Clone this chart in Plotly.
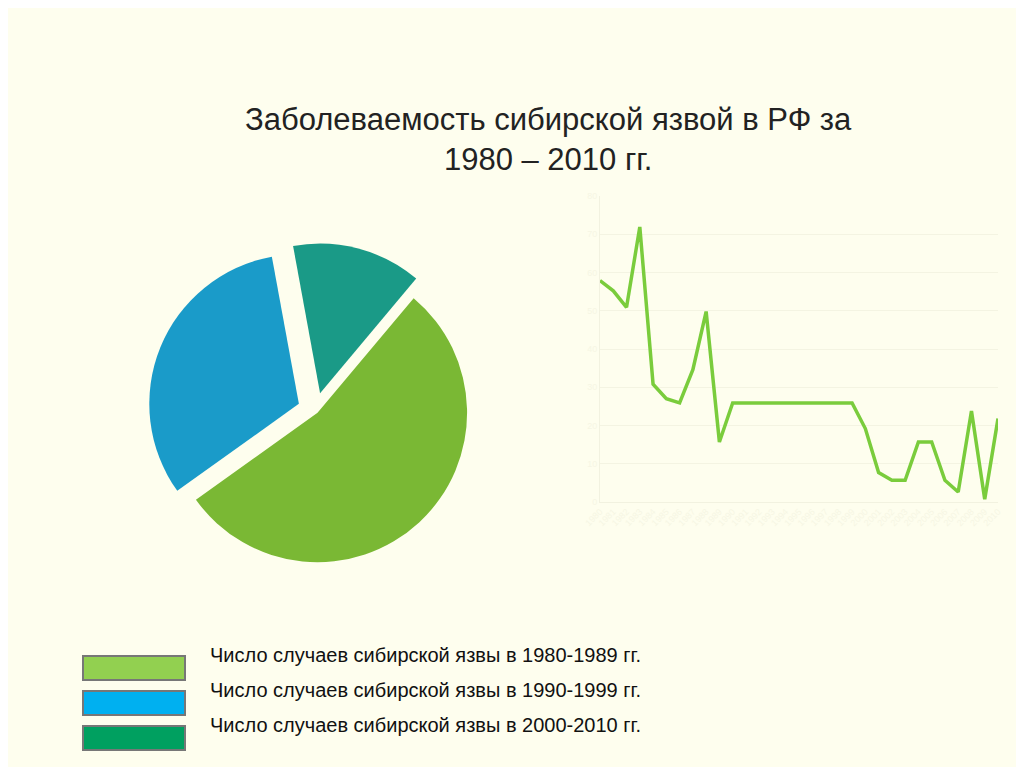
import plotly.graph_objects as go

years = [str(y) for y in range(1980, 2011)]
cases = [57.9, 55.2, 50.9, 71.9, 30.8, 27.0, 25.9, 34.6, 49.8, 15.7,
         25.9, 25.9, 25.9, 25.9, 25.9, 25.9, 25.9, 25.9, 25.9, 25.9,
         19.2, 7.7, 5.7, 5.7, 15.7, 15.7, 5.7, 2.6, 23.8, 0.7, 21.8]
pie_labels = ["Число случаев сибирской язвы в 1980-1989 гг.",
              "Число случаев сибирской язвы в 1990-1999 гг.",
              "Число случаев сибирской язвы в 2000-2010 гг."]
pie_values = [54, 32, 14]
pie_colors = ["#7ab834", "#1a9bc9", "#1a9a87"]
legend_colors = ["#92d050", "#00b0f0", "#00a060"]

W, H = 1024, 767
bg = "#fefeee"
fig = go.Figure()
fig.add_trace(go.Pie(labels=pie_labels, values=pie_values, sort=False, direction="clockwise",
                     rotation=40, pull=[0.02, 0.12, 0.12],
                     marker=dict(colors=pie_colors, line=dict(color=bg, width=0)),
                     textinfo="none", showlegend=False,
                     domain=dict(x=[95/W, 520/W], y=[1-570/H, 1-235/H])))
fig.add_trace(go.Scatter(x=years, y=cases, mode="lines", showlegend=False,
                         line=dict(color="#7acc3c", width=3.5)))
fig.update_layout(
    width=W, height=H, margin=dict(l=0, r=0, t=0, b=0, autoexpand=False),
    paper_bgcolor=bg, plot_bgcolor=bg,
    xaxis=dict(domain=[592/W, 990/W], tickangle=-45, tickfont=dict(color="#f6f6e4", size=9),
               showgrid=False, showline=True, linecolor="#f2f2e0", automargin=False),
    yaxis=dict(domain=[1-494/H, 1-188/H], range=[0, 80], dtick=10, automargin=False,
               tickfont=dict(color="#f6f6e4", size=9), gridcolor="#f4f4e2",
               showline=True, linecolor="#f2f2e0", zeroline=False),
    font=dict(family="Liberation Sans, Arial, sans-serif"),
)
fig.add_annotation(text="Заболеваемость сибирской язвой в РФ за<br>1980 – 2010 гг.",
                   x=540/W, y=1-92/H, xref="paper", yref="paper", showarrow=False,
                   font=dict(size=31, color="#222222"), align="center")
ys = [660, 695, 730]
for c, lab, yc in zip(legend_colors, pie_labels, ys):
    fig.add_shape(type="rect", xref="paper", yref="paper",
                  x0=75/W, x1=177/W, y0=1-(yc+12)/H, y1=1-(yc-12)/H,
                  fillcolor=c, line=dict(color="#777777", width=2))
    fig.add_annotation(text=lab, x=200/W, y=1-yc/H, xref="paper", yref="paper",
                       xanchor="left", showarrow=False, font=dict(size=20, color="#111111"))
fig.write_html("out.html")
